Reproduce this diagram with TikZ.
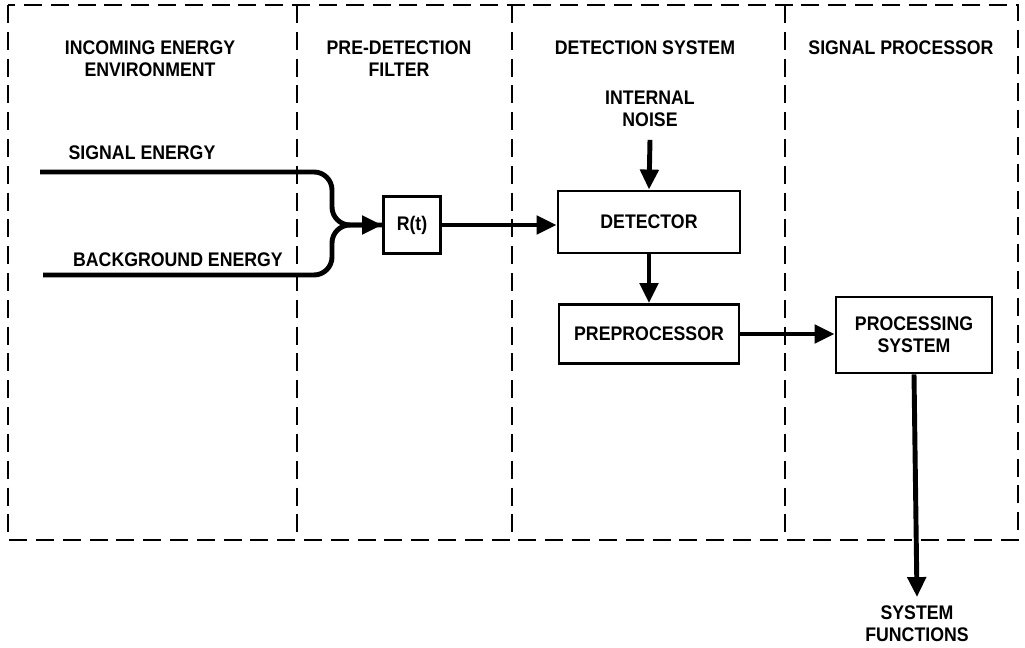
\documentclass[tikz,border=0pt]{standalone}
\usepackage{fontspec}
\newfontfamily\lblfont{Liberation Sans}[FakeStretch=0.9]
\usepackage{tikz}
\usetikzlibrary{calc, positioning, arrows.meta}

\begin{document}
\begin{tikzpicture}[x=0.025cm, y=-0.025cm,
  blockbox/.style={draw, line width=2pt, inner sep=2pt, align=center,
    font=\lblfont\bfseries\fontsize{14}{15.6}\selectfont},
  lbl/.style={align=center, font=\lblfont\bfseries\fontsize{14}{15.6}\selectfont},
  arrow/.style={-{Triangle[length=0.5cm, width=0.45cm]}, line width=3.5pt},
  zone/.style={line width=2pt, dash pattern=on 0.45cm off 0.22cm},
]
  \useasboundingbox (0,0) rectangle (1025,648);
  % zones
  \draw[zone] (8,5) rectangle (1018,540);
  \foreach \xd in {297, 512, 785}
    \draw[zone] (\xd,5) -- (\xd,540);
  \node[lbl] (h1) at (150,59) {INCOMING ENERGY\\ENVIRONMENT};
  \node[lbl] (h2) at (399,59) {PRE-DETECTION\\FILTER};
  \node[lbl] (h3) at (645,48) {DETECTION SYSTEM};
  \node[lbl] (h4) at (901,48) {SIGNAL PROCESSOR};
  % blocks
  \node[blockbox, minimum width=1.425cm, minimum height=1.425cm] (rt) at (412,225) {R(t)};
  \node[blockbox, minimum width=4.55cm, minimum height=1.55cm] (det) at (649,222) {DETECTOR};
  \node[blockbox, minimum width=4.5cm, minimum height=1.475cm] (pre) at (649,334) {PREPROCESSOR};
  \node[blockbox, minimum width=3.9cm, minimum height=1.9cm] (proc) at (914,335) {PROCESSING\\SYSTEM};
  \node[lbl] (noise) at (650,109) {INTERNAL\\NOISE};
  \node[lbl] (out) at (917,624) {SYSTEM\\FUNCTIONS};
  \node[lbl] (sig) at (142,153) {SIGNAL ENERGY};
  \node[lbl] (bkg) at (178,260) {BACKGROUND ENERGY};
  % inputs
  \coordinate (sigin) at (40,172);
  \coordinate (bkgin) at (43,275);
  \draw[line width=3.5pt, rounded corners=0.45cm] (bkgin) -- (332,275) -- (332,225) -- (rt.west);
  \draw[arrow, rounded corners=0.45cm] (sigin) -- (332,172) -- (332,225) -- (rt.west);
  % flow
  \draw[arrow] (rt.east) -- (rt.east -| det.west);
  \draw[arrow] (noise.south) ++(0,8) -- (det.north);
  \draw[arrow] (det.south) -- (pre.north);
  \draw[arrow] (pre.east) -- (pre.east -| proc.west);
  \draw[arrow] (proc.south) -- ($(out.north)+(0,-4)$);
\end{tikzpicture}
\end{document}
